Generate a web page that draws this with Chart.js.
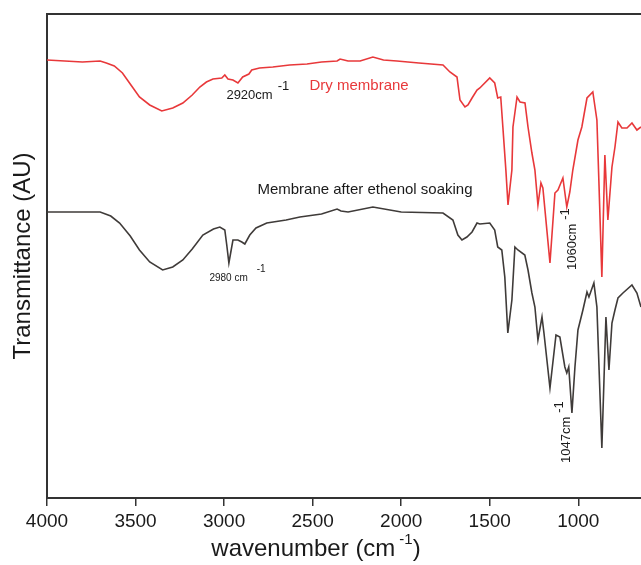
<!DOCTYPE html>
<html>
<head>
<meta charset="utf-8">
<script src="https://cdn.jsdelivr.net/npm/chart.js@4.4.1/dist/chart.umd.min.js"></script>
<style>
  html, body { margin: 0; padding: 0; background: #fff; }
  canvas { display: block; }
</style>
</head>
<body>
<canvas id="ftir" width="641" height="565"></canvas>
<script>
// wavenumbers (cm-1) and transmittance (arbitrary units)
const dryWave = [4000, 3900, 3800, 3700, 3665, 3620, 3574, 3530, 3478, 3420, 3352, 3290, 3233, 3180, 3137, 3100, 3063, 3013, 2996, 2978, 2950, 2922, 2895, 2860, 2844, 2800, 2725, 2630, 2532, 2450, 2362, 2345, 2300, 2232, 2160, 2100, 2024, 1900, 1764, 1725, 1685, 1668, 1640, 1623, 1600, 1572, 1556, 1500, 1472, 1455, 1438, 1426, 1409, 1397, 1375, 1369, 1346, 1329, 1301, 1284, 1262, 1245, 1228, 1211, 1200, 1160, 1132, 1115, 1087, 1065, 1048, 1031, 1002, 980, 951, 918, 895, 884, 867, 850, 833, 810, 793, 776, 754, 725, 697, 669, 646];
const dryT = [438, 437, 436, 437, 435, 432, 425, 414, 401, 393, 387, 390, 395, 403, 411, 416, 419, 420, 423, 419, 418, 415, 421, 424, 428, 430, 431, 433, 434, 436, 437, 439, 437, 437, 441, 438, 437, 435, 433, 426, 421, 398, 391, 393, 400, 408, 410, 420, 415, 400, 401, 371, 328, 293, 328, 371, 401, 396, 395, 371, 345, 328, 293, 315, 310, 235, 305, 308, 320, 291, 306, 328, 358, 371, 400, 406, 378, 318, 221, 343, 278, 331, 351, 376, 370, 370, 375, 368, 371];

const wetWave = [4000, 3800, 3700, 3640, 3590, 3530, 3478, 3420, 3347, 3290, 3233, 3180, 3120, 3060, 3024, 2996, 2985, 2973, 2960, 2950, 2922, 2900, 2883, 2855, 2820, 2759, 2650, 2572, 2450, 2362, 2340, 2300, 2160, 2000, 1764, 1708, 1680, 1657, 1629, 1600, 1572, 1556, 1500, 1472, 1455, 1432, 1415, 1398, 1375, 1358, 1341, 1302, 1284, 1262, 1245, 1228, 1205, 1194, 1160, 1126, 1104, 1076, 1065, 1054, 1036, 1019, 1002, 974, 951, 940, 912, 895, 867, 844, 827, 810, 793, 776, 748, 697, 669, 646];
const wetT = [286, 286, 286, 282, 275, 262, 248, 236, 228, 231, 238, 249, 263, 269, 271, 268, 253, 235, 248, 258, 258, 256, 254, 263, 270, 275, 278, 281, 284, 289, 287, 286, 291, 286, 285, 278, 263, 258, 261, 266, 275, 274, 275, 268, 251, 248, 221, 165, 198, 251, 248, 243, 228, 205, 191, 158, 181, 165, 110, 163, 161, 131, 125, 131, 85, 131, 168, 188, 206, 201, 215, 191, 50, 181, 128, 175, 188, 200, 205, 213, 205, 191];

const seriesNames = ['Dry membrane', 'Membrane after ethenol soaking'];
const seriesColors = ['#e8383a', '#3f3b39'];
const xTicks = [4000, 3500, 3000, 2500, 2000, 1500, 1000];

// peak labels: [text, superscript, wavenumber, transmittance, rotated, font size, gap]
const peakLabels = [
  ['2920cm', '-1', 2987, 403, false, 13, 5],
  ['2980 cm', '-1', 3083, 220, false, 10, 9],
  ['1060cm', '-1', 1036, 228, true, 13, 4],
  ['1047cm', '-1', 1065, 35, true, 13, 4]
];
// series captions: [text, wavenumber, transmittance, colour]
const captions = [
  [seriesNames[0], 2518, 412, seriesColors[0]],
  [seriesNames[1], 2812, 308, '#1a1a1a']
];

function pts(xs, ys) {
  return xs.map((x, i) => ({ x: x, y: ys[i] }));
}

const textFont = '"Liberation Sans", Arial, sans-serif';

const decor = {
  id: 'decor',
  afterDraw(chart) {
    const ctx = chart.ctx;
    const xs = chart.scales.x, ys = chart.scales.y;
    const a = chart.chartArea;
    ctx.save();

    // top frame line
    ctx.strokeStyle = '#333';
    ctx.lineWidth = 2;
    ctx.beginPath();
    ctx.moveTo(a.left - 1, a.top);
    ctx.lineTo(a.right, a.top);
    ctx.stroke();

    ctx.textBaseline = 'middle';
    ctx.textAlign = 'left';

    captions.forEach(c => {
      ctx.font = '15px ' + textFont;
      ctx.fillStyle = c[3];
      ctx.fillText(c[0], xs.getPixelForValue(c[1]), ys.getPixelForValue(c[2]));
    });

    peakLabels.forEach(p => {
      const px = xs.getPixelForValue(p[2]);
      const py = ys.getPixelForValue(p[3]);
      ctx.fillStyle = '#1a1a1a';
      ctx.font = p[5] + 'px ' + textFont;
      const w = ctx.measureText(p[0]).width;
      ctx.save();
      ctx.translate(px, py);
      if (p[4]) ctx.rotate(-Math.PI / 2);
      ctx.fillText(p[0], 0, 0);
      ctx.fillText(p[1], w + p[6], p[4] ? -7 : -9);
      ctx.restore();
    });

    // y axis title
    ctx.fillStyle = '#1a1a1a';
    ctx.font = '24px ' + textFont;
    ctx.textAlign = 'center';
    ctx.save();
    ctx.translate(23, (a.top + a.bottom) / 2);
    ctx.rotate(-Math.PI / 2);
    ctx.fillText('Transmittance (AU)', 0, 0);
    ctx.restore();

    // x axis title with superscript
    const t1 = 'wavenumber (cm', t2 = '-1', t3 = ')';
    ctx.font = '24px ' + textFont;
    const w1 = ctx.measureText(t1).width;
    const w3 = ctx.measureText(t3).width;
    ctx.font = '15px ' + textFont;
    const w2 = ctx.measureText(t2).width;
    const x0 = 316 - (w1 + w2 + w3 + 4) / 2;
    const yT = 549;
    ctx.textAlign = 'left';
    ctx.font = '24px ' + textFont;
    ctx.fillText(t1, x0, yT);
    ctx.font = '15px ' + textFont;
    ctx.fillText(t2, x0 + w1 + 4, yT - 9);
    ctx.font = '24px ' + textFont;
    ctx.fillText(t3, x0 + w1 + 4 + w2, yT);
    ctx.restore();
  }
};

new Chart(document.getElementById('ftir'), {
  type: 'line',
  data: {
    datasets: [{
      label: seriesNames[0],
      data: pts(dryWave, dryT),
      borderColor: seriesColors[0],
      borderWidth: 1.6,
      pointRadius: 0,
      fill: false
    }, {
      label: seriesNames[1],
      data: pts(wetWave, wetT),
      borderColor: seriesColors[1],
      borderWidth: 1.6,
      pointRadius: 0,
      fill: false
    }]
  },
  options: {
    responsive: false,
    animation: false,
    devicePixelRatio: 1,
    layout: { padding: { left: 47, top: 14, right: 0, bottom: 0 } },
    plugins: {
      legend: { display: false },
      tooltip: { enabled: false }
    },
    scales: {
      x: {
        type: 'linear',
        reverse: true,
        min: 646,
        max: 4000,
        afterFit(scale) { scale.height = 67; },
        afterBuildTicks(scale) { scale.ticks = xTicks.map(v => ({ value: v })); },
        ticks: {
          maxRotation: 0,
          autoSkip: false,
          padding: 4,
          color: '#1a1a1a',
          font: { family: textFont, size: 19 },
          callback: v => String(v)
        },
        grid: {
          display: true,
          drawOnChartArea: false,
          drawTicks: true,
          tickLength: 8,
          color: '#333',
          lineWidth: 1.5
        },
        border: { display: true, color: '#333', width: 2 }
      },
      y: {
        min: 0,
        max: 484,
        afterFit(scale) { scale.width = 0; },
        ticks: { display: false },
        grid: { display: false },
        border: { display: true, color: '#333', width: 2 }
      }
    }
  },
  plugins: [decor]
});
</script>
</body>
</html>
